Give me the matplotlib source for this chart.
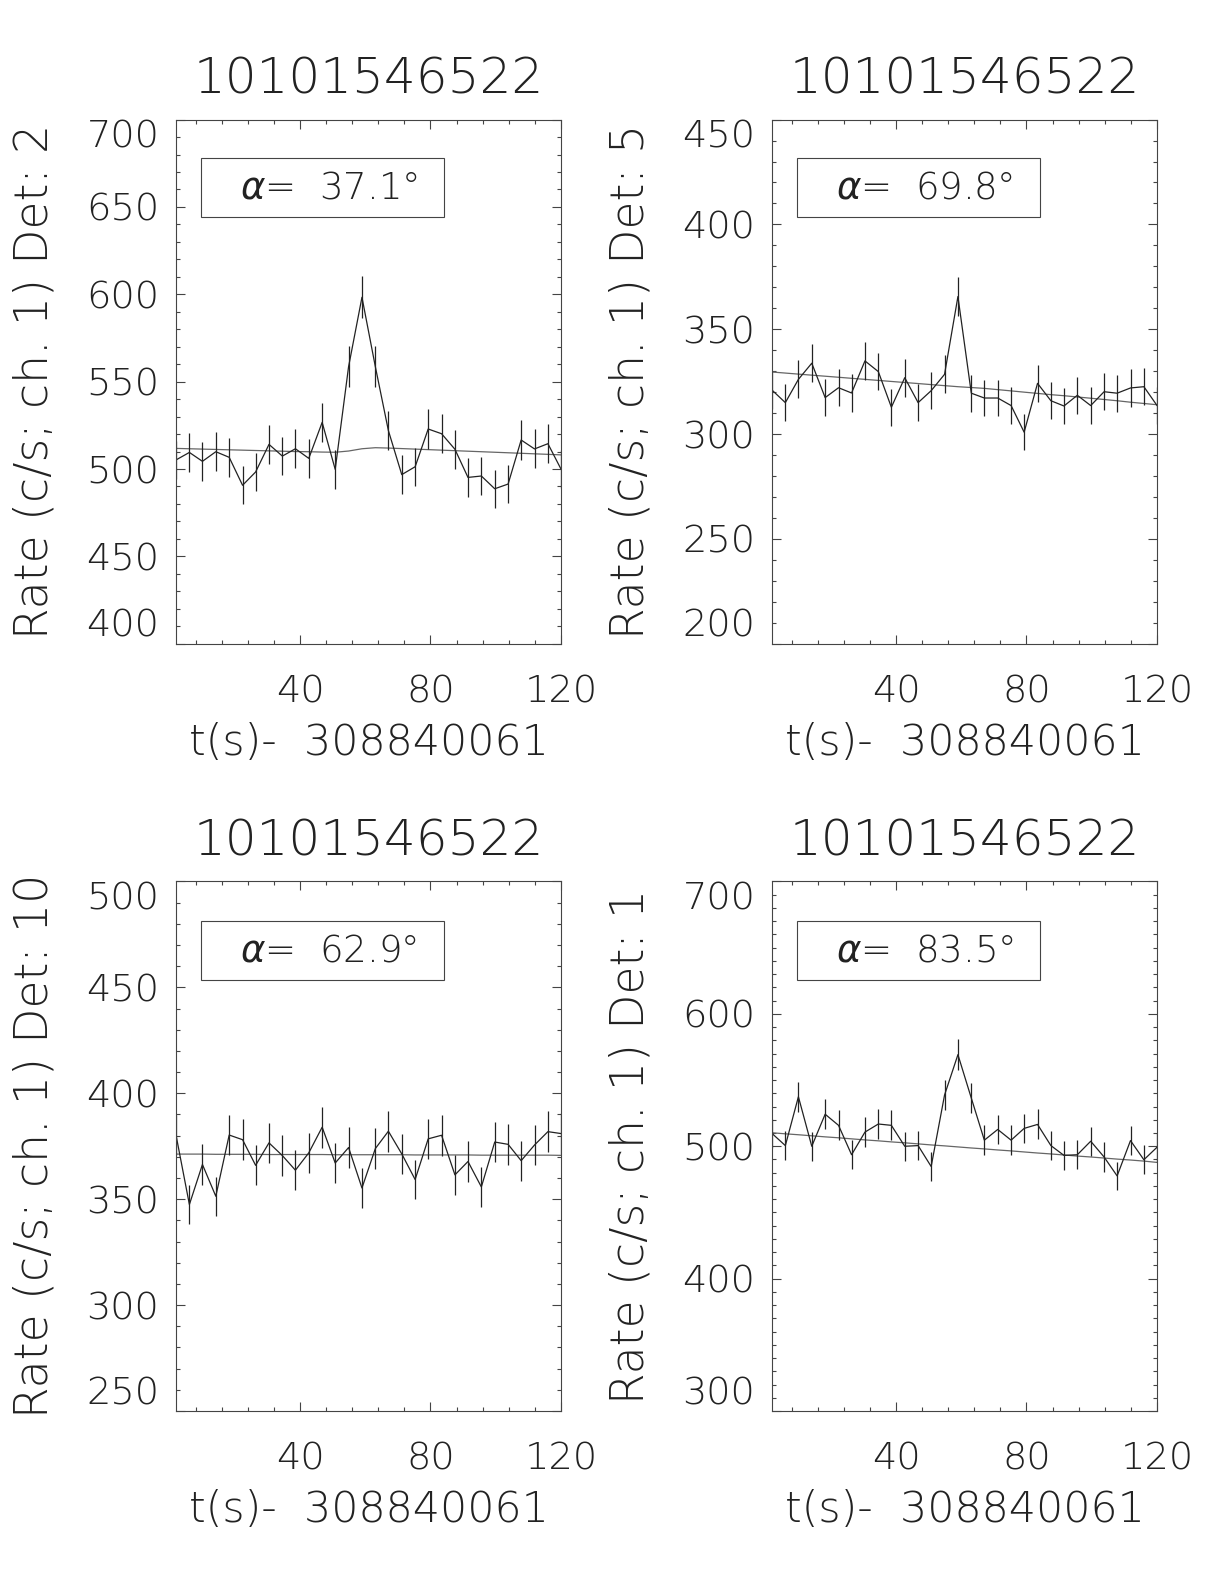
import numpy as np
import matplotlib
matplotlib.use('Agg')
import matplotlib.pyplot as plt
from matplotlib import font_manager as fm
from matplotlib.ticker import MultipleLocator
from matplotlib.patches import Rectangle

# pick a thin face if one is installed (the original uses a hairline vector font)
family = 'DejaVu Sans'
for fam in ['DejaVu Sans', 'Inter', 'Lato', 'Open Sans', 'Roboto', 'Noto Sans']:
    found = [f for f in fm.fontManager.ttflist
             if f.name == fam and f.style == 'normal'
             and isinstance(f.weight, int) and f.weight <= 300]
    if found:
        family = fam
        break
plt.rcParams['font.family'] = [family, 'DejaVu Sans']
plt.rcParams['font.weight'] = 'light'
plt.rcParams['axes.titleweight'] = 'light'
plt.rcParams['axes.labelweight'] = 'light'
plt.rcParams['mathtext.fontset'] = 'custom'
plt.rcParams['mathtext.it'] = family + ':italic:light'
plt.rcParams['mathtext.rm'] = family + ':light'

# time bins (s after 308840061)
t = [2.0, 6.1, 10.1, 14.2, 18.3, 22.4, 26.4, 30.5, 34.6, 38.6, 42.7, 46.8, 50.8,
     54.9, 59.0, 63.1, 67.1, 71.2, 75.3, 79.3, 83.4, 87.5, 91.5, 95.6, 99.7,
     103.8, 107.8, 111.9, 116.0, 120.0]

# Det 2
rate_d2 = [505.2, 509.5, 504.4, 509.9, 506.7, 490.7, 498.3, 514.1, 507.4, 511.6,
           506.1, 526.7, 499.8, 558.6, 598.3, 558.6, 522.0, 496.8, 501.3, 522.9,
           520.2, 511.3, 495.2, 496.0, 488.7, 491.4, 516.6, 511.5, 514.5, 500.0]
err_d2 = [11.1, 11.2, 11.1, 11.2, 11.1, 10.9, 11.0, 11.2, 11.1, 11.2, 11.1, 11.3,
          11.0, 11.7, 12.1, 11.7, 11.3, 11.0, 11.0, 11.3, 11.2, 11.2, 11.0, 11.0,
          10.9, 10.9, 11.2, 11.2, 11.2, 11.0]
model_d2 = [511.8, 511.6, 511.4, 511.2, 511.0, 510.8, 510.6, 510.4, 510.2, 510.0,
            509.9, 509.7, 509.6, 510.3, 511.6, 512.2, 512.0, 511.7, 511.4, 511.1,
            510.8, 510.5, 510.2, 509.9, 509.6, 509.3, 509.0, 508.7, 508.4, 508.1]

# Det 5
rate_d5 = [321.0, 315.0, 326.1, 333.8, 317.4, 322.1, 319.6, 334.9, 329.8, 312.8,
           326.9, 315.0, 320.7, 328.5, 365.6, 319.5, 317.2, 317.2, 313.6, 300.9,
           324.2, 315.9, 313.4, 318.5, 313.6, 320.2, 319.5, 322.0, 322.6, 313.7]
err_d5 = [8.9, 8.8, 9.0, 9.1, 8.8, 8.9, 8.9, 9.1, 9.0, 8.8, 9.0, 8.8, 8.9, 9.0,
          9.5, 8.9, 8.8, 8.8, 8.8, 8.6, 8.9, 8.8, 8.8, 8.8, 8.8, 8.9, 8.9, 8.9,
          8.9, 8.8]
model_d5 = [329.6, 329.1, 328.6, 328.1, 327.6, 327.1, 326.6, 326.1, 325.6, 325.1,
            324.6, 324.1, 323.6, 323.1, 322.6, 322.2, 321.8, 321.2, 320.6, 320.0,
            319.4, 318.8, 318.3, 317.7, 317.1, 316.5, 315.9, 315.2, 314.6, 314.0]

# Det 10
rate_d10 = [380.3, 347.5, 366.4, 351.4, 380.3, 378.1, 366.0, 376.6, 370.6, 363.7,
            371.9, 384.0, 367.1, 374.4, 355.3, 373.9, 382.1, 371.4, 359.3, 378.5,
            380.2, 361.5, 367.8, 355.8, 377.0, 375.9, 368.2, 375.6, 381.9, 381.0]
err_d10 = [9.6, 9.2, 9.5, 9.3, 9.6, 9.6, 9.5, 9.6, 9.5, 9.4, 9.5, 9.7, 9.5, 9.6,
           9.3, 9.6, 9.7, 9.5, 9.4, 9.6, 9.6, 9.4, 9.5, 9.3, 9.6, 9.6, 9.5, 9.6,
           9.7, 9.6]
model_d10 = [371.3, 371.3, 371.3, 371.2, 371.2, 371.2, 371.2, 371.1, 371.1, 371.1,
             371.1, 371.1, 371.0, 371.0, 371.0, 371.0, 371.0, 371.0, 370.9, 370.9,
             370.9, 370.9, 370.9, 370.8, 370.8, 370.8, 370.8, 370.8, 370.8, 370.7]

# Det 1
rate_d1 = [509.7, 500.5, 537.4, 500.0, 524.2, 515.8, 493.6, 510.7, 516.8, 515.8,
           500.0, 500.5, 484.7, 538.7, 569.2, 536.4, 504.6, 512.7, 504.6, 513.5,
           516.5, 500.5, 493.1, 493.6, 503.8, 491.9, 477.6, 504.3, 489.8, 499.2]
err_d1 = [11.2, 11.1, 11.5, 11.1, 11.4, 11.3, 11.0, 11.2, 11.3, 11.3, 11.1, 11.1,
          10.9, 11.5, 11.8, 11.5, 11.1, 11.2, 11.1, 11.2, 11.3, 11.1, 11.0, 11.0,
          11.1, 11.0, 10.8, 11.1, 10.9, 11.0]
model_d1 = [510.2, 509.4, 508.7, 507.9, 507.1, 506.4, 505.6, 504.8, 504.1, 503.3,
            502.6, 501.8, 501.0, 500.3, 499.5, 498.7, 498.0, 497.2, 496.5, 495.7,
            494.9, 494.2, 493.4, 492.6, 491.9, 491.1, 490.3, 489.6, 488.8, 487.8]

panels = [
    # (det, alpha, rate, err, model, ylim, major, axes rect)
    ('2', '37.1', rate_d2, err_d2, model_d2, (400, 700), 50,
     [0.1438, 0.5936, 0.3145, 0.3309]),
    ('5', '69.8', rate_d5, err_d5, model_d5, (200, 450), 50,
     [0.6307, 0.5936, 0.3145, 0.3309]),
    ('10', '62.9', rate_d10, err_d10, model_d10, (250, 500), 50,
     [0.1438, 0.1092, 0.3145, 0.3343]),
    ('1', '83.5', rate_d1, err_d1, model_d1, (300, 700), 100,
     [0.6307, 0.1092, 0.3145, 0.3343]),
]

title = '10101546522'
xlab = 't(s)-  308840061'
ink = '#222222'

fig = plt.figure(figsize=(12.24, 15.84), dpi=100)

axes, titles, xlabels, ylabels, atexts = [], [], [], [], []
for det, alpha, rate, err, model, ylim, major, rect in panels:
    ax = fig.add_axes(rect)
    ax.plot(t, model, color='#666666', lw=0.9)
    ax.errorbar(t, rate, yerr=err, fmt='none', ecolor=ink, elinewidth=0.9,
                capsize=0)
    ax.plot(t, rate, color=ink, lw=0.9)

    ax.set_xlim(2, 120)
    ax.set_ylim(*ylim)
    ax.xaxis.set_major_locator(MultipleLocator(40))
    ax.xaxis.set_minor_locator(MultipleLocator(8))
    ax.yaxis.set_major_locator(MultipleLocator(major))
    ax.yaxis.set_minor_locator(MultipleLocator(10))
    ax.tick_params(which='both', direction='in', top=True, right=True,
                   color='#444444', width=0.8, labelsize=27.5,
                   labelcolor=ink)
    ax.tick_params(which='major', length=6.5)
    ax.tick_params(which='minor', length=3.2)
    ax.tick_params(axis='x', pad=22)
    ax.tick_params(axis='y', pad=12)
    for s in ax.spines.values():
        s.set_color('#444444')
        s.set_linewidth(0.8)

    titles.append(ax.set_title(title, fontsize=34.5, color=ink, pad=19))
    xlabels.append(ax.set_xlabel(xlab, fontsize=29, color=ink, labelpad=9))
    ylabels.append(ax.set_ylabel('Rate (c/s; ch. 1) Det: ' + det,
                                 fontsize=29, color=ink, va='baseline'))
    ax.yaxis.set_label_coords(-0.333, 0.5)

    # alpha box
    ax.add_patch(Rectangle((0.065, 0.814), 0.631, 0.112,
                           transform=ax.transAxes, fill=False,
                           edgecolor='#444444', lw=0.8))
    atexts.append(ax.text(0.166, 0.8497, r'$\alpha$=  ' + alpha + '°',
                          transform=ax.transAxes, fontsize=29.5, color=ink,
                          ha='left', va='baseline'))
    axes.append(ax)


def fit(texts, target, along='width'):
    # scale font so the first text spans the target length in pixels
    bb = texts[0].get_window_extent()
    w = bb.width if along == 'width' else bb.height
    size = texts[0].get_fontsize() * target / w
    for tx in texts:
        tx.set_fontsize(size)


fig.canvas.draw()
fit(titles, 350)
fit(xlabels, 360)
fit(ylabels, 515, along='height')
fit(atexts, 178)
lab = [l for l in axes[0].get_yticklabels() if l.get_text()][0]
tsize = 27.5 * 73 / lab.get_window_extent().width
for ax in axes:
    ax.tick_params(labelsize=tsize)

# end labels sit inside the axis range, like the original
fig.canvas.draw()
for ax in axes:
    lo, hi = ax.get_ylim()
    for l in ax.get_yticklabels():
        y = l.get_position()[1]
        if abs(y - lo) < 1e-6:
            l.set_va('bottom')
        elif abs(y - hi) < 1e-6:
            l.set_va('top')

fig.savefig('out.png', dpi=100)
